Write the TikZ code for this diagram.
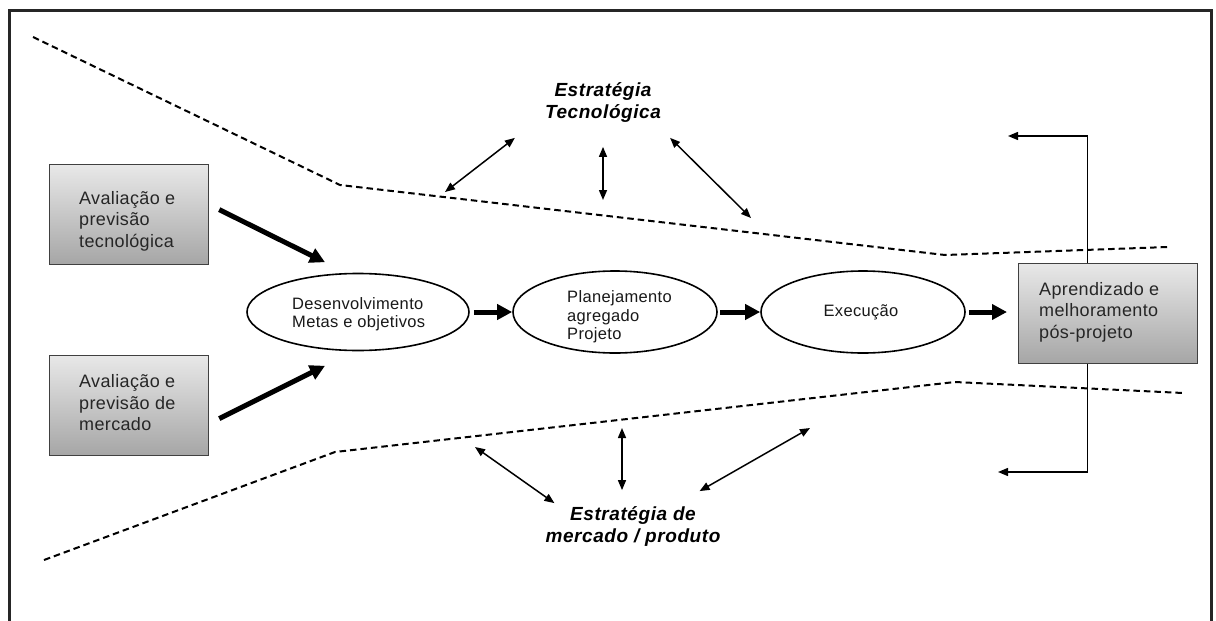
\documentclass[tikz,border=0pt]{standalone}
\usepackage{fontspec}
\usetikzlibrary{arrows.meta,shapes.geometric,calc}
\newfontfamily\labelfont{Liberation Sans}[LetterSpace=2]
\newfontfamily\stratfont{Liberation Sans}[LetterSpace=3]

\begin{document}
\begin{tikzpicture}[x=1pt,y=-1pt,
  inbox/.style={draw=black!75, line width=1.2pt, top color=black!9, bottom color=black!35,
    minimum width=159pt, minimum height=100pt, inner sep=0pt, anchor=north west},
  boxtext/.style={anchor=west, align=left, inner sep=0pt, text=black!85,
    font=\labelfont\fontsize{18}{21.5}\selectfont},
  phase/.style={ellipse, draw, line width=1.6pt, fill=white, inner sep=0pt},
  phasetext/.style={anchor=west, align=left, inner sep=0pt, text=black!90,
    font=\labelfont\fontsize{16.5}{18.5}\selectfont},
  strat/.style={align=center, inner sep=0pt,
    font=\stratfont\bfseries\itshape\fontsize{19}{22.5}\selectfont},
  flow/.style={line width=5pt, -{Triangle[length=15pt,width=15pt]}},
  link/.style={line width=1.5pt, {Triangle[length=10pt,width=8pt]}-{Triangle[length=10pt,width=8pt]}},
  feedback/.style={line width=1.4pt, -{Triangle[length=10pt,width=8pt]}},
  limit/.style={line width=2pt, dash pattern=on 6.5pt off 4pt},
  frame/.style={line width=3pt, black!85}]

\useasboundingbox (0,0) rectangle (1216,621);

% outer frame (open at the bottom)
\draw[frame] (9,621) -- (9,10) -- (1211,10) -- (1211,621);

% funnel limits
\draw[limit] (33,37) -- (340,185) -- (945,255) -- (1168,247);
\draw[limit] (44,560) -- (335,452) -- (955,382) -- (1183,393);

% input boxes
\node[inbox] (b1) at (49,164) {};
\node[boxtext] (b1t) at (79,221) {Avaliação e\\previsão\\tecnológica};
\node[inbox] (b2) at (49,355) {};
\node[boxtext] (b2t) at (79,403) {Avaliação e\\previsão de\\mercado};

% output box
\node[inbox, minimum width=179pt] (b3) at (1018,263) {};
\node[boxtext] (b3t) at (1039,312) {Aprendizado e\\melhoramento\\pós-projeto};

% project phases
\node[phase, minimum width=222pt, minimum height=77pt] (e1) at (358,312) {};
\node[phasetext] (e1t) at (292,314) {Desenvolvimento\\Metas e objetivos};
\node[phase, minimum width=204pt, minimum height=82pt] (e2) at (615,312) {};
\node[phasetext] (e2t) at (567,317) {Planejamento\\agregado\\Projeto};
\node[phase, minimum width=204pt, minimum height=82pt] (e3) at (863,312) {};
\node[phasetext, anchor=center] (e3t) at (861,312) {Execução};

% strategies
\node[strat] (st1) at (603,102.5) {Estratégia\\Tecnológica};
\node[strat] (st2) at (633,526.5) {Estratégia de\\mercado / produto};

% main flow
\draw[flow] ($(b1.east)+(10,-5)$) -- ($(e1.north)+(-33,-10.5)$);
\draw[flow] ($(b2.east)+(10,13)$) -- ($(e1.south)+(-33,14.5)$);
\draw[flow] ([xshift=4pt]e1.east) -- (e2.west);
\draw[flow] ([xshift=2pt]e2.east) -- (e3.west);
\draw[flow] ([xshift=3pt]e3.east) -- ([xshift=-11pt]b3.west |- e3.east);

% interaction with the strategies
\coordinate (tl) at (445,192);
\coordinate (tm) at (603,200);
\coordinate (tr) at (751,218);
\coordinate (bl) at (475,447);
\coordinate (bm) at (622,428);
\coordinate (br) at (810,428);
\draw[link] ($(st1.south west)+(-30,15)$) -- (tl);
\draw[link] ($(st1.south)+(0,24)$) -- (tm);
\draw[link] ($(st1.south east)+(9,15)$) -- (tr);
\draw[link] ($(st2.north west)+(9,-3)$) -- (bl);
\draw[link] ($(st2.north)+(-11,-16)$) -- (bm);
\draw[link] ($(st2.north east)+(-21,-15)$) -- (br);

% feedback of the lessons learned
\coordinate (fbtop) at (1008,136);
\coordinate (fbbot) at (998,472);
\draw[feedback] ([xshift=-20.5pt]b3.north) |- (fbtop);
\draw[feedback] ([xshift=-20.5pt]b3.south) |- (fbbot);
\end{tikzpicture}
\end{document}
